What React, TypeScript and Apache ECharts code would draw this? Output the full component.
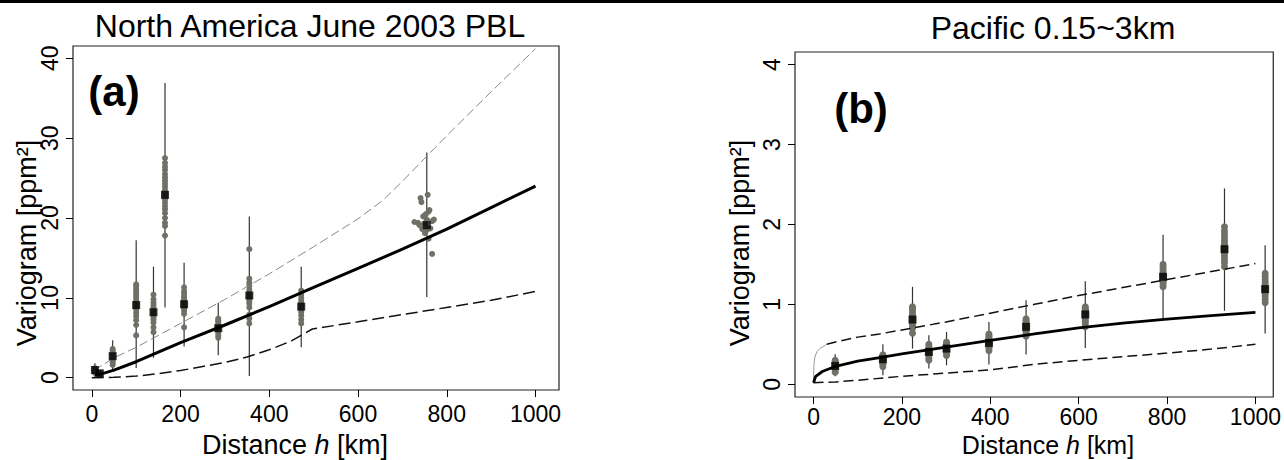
import React, { useEffect, useRef } from 'react';
import * as echarts from 'echarts';

const FONT = '"Liberation Sans", Arial, Helvetica, sans-serif';

// ---------- Panel (a): North America June 2003 PBL ----------
const aTitle = 'North America June 2003 PBL';
const aXTicks = [0, 200, 400, 600, 800, 1000];
const aYTicks = [0, 10, 20, 30, 40];
const aModel: number[][] = [
  [7, 0.34], [20, 0.45], [50, 0.95], [100, 2.0], [200, 4.4], [300, 6.6], [400, 8.9],
  [500, 11.3], [600, 13.7], [700, 16.1], [800, 18.6], [900, 21.3], [1000, 24.0],
];
const aUpper: number[][] = [
  [5, 0.9], [50, 2.5], [100, 3.8], [200, 6.8], [300, 9.8], [400, 13.0], [500, 16.4],
  [600, 19.9], [658, 22.3], [700, 24.6], [800, 30.3], [900, 35.8], [1000, 41.2],
];
const aLower: number[][] = [
  [0, 0.0], [50, 0.05], [100, 0.2], [150, 0.5], [200, 0.9], [250, 1.4], [300, 1.9],
  [350, 2.6], [400, 3.5], [450, 4.6], [497, 6.1], [600, 7.0], [700, 7.9], [800, 8.8],
  [900, 9.7], [1000, 10.8],
];
const aBinX = [7, 18, 47, 100, 139, 165, 208, 285, 355, 472, 755];
const aBinMean = [0.96, 0.55, 2.7, 9.1, 8.2, 22.9, 9.2, 6.2, 10.3, 8.9, 19.1];
const aBinLo = [0.0, 0.1, 0.75, 1.2, 2.5, 8.8, 3.9, 2.8, 0.2, 3.8, 10.1];
const aBinHi = [1.8, 0.9, 4.7, 17.2, 13.9, 36.9, 14.4, 9.4, 20.2, 13.9, 28.2];
const aBinDots: number[][] = [
  [0.6, 0.8, 0.9, 1.0, 1.1, 1.2, 0.7],
  [0.4, 0.5, 0.6, 0.3],
  [1.6, 1.9, 2.1, 2.3, 2.5, 2.6, 2.8, 2.9, 3.0, 3.2, 3.4, 3.6],
  [5.3, 6.6, 7.2, 7.7, 8.1, 8.5, 8.8, 9.1, 9.4, 9.7, 10.0, 10.3, 10.6, 10.9, 11.2, 11.5, 11.7],
  [5.7, 6.3, 6.9, 7.3, 7.6, 7.9, 8.2, 8.5, 8.8, 9.1, 9.4, 9.8, 10.4],
  [17.8, 19.0, 19.4, 20.0, 20.6, 21.1, 21.5, 21.9, 22.3, 22.6, 22.9, 23.2, 23.5, 23.9, 24.3, 24.7, 25.1, 25.5, 26.0, 26.4, 26.9, 27.5],
  [6.3, 8.0, 8.4, 8.7, 9.0, 9.3, 9.6, 9.9, 10.2, 10.5, 10.8, 11.3],
  [5.0, 5.3, 5.6, 5.9, 6.1, 6.3, 6.5, 6.8, 7.0, 7.2, 7.4],
  [6.8, 7.4, 7.9, 8.8, 9.3, 9.6, 9.9, 10.2, 10.6, 11.0, 11.5, 11.9, 12.4, 16.1],
  [6.8, 7.3, 7.8, 8.2, 8.5, 8.8, 9.1, 9.4, 9.7, 10.0, 10.4, 10.9],
  [],
];
// the far bin is spread over a range of distances
const aFarDots: number[][] = [
  [727, 19.5], [741, 22.5], [743, 22.0], [757, 22.9], [759, 20.8], [767, 19.6], [739, 19.1],
  [751, 18.1], [759, 17.4], [755, 18.5], [767, 15.5], [747, 20.2], [763, 18.7], [755, 19.8],
  [749, 19.3], [761, 21.0], [745, 18.6], [771, 19.8], [735, 19.4], [753, 20.5],
];

// ---------- Panel (b): Pacific 0.15~3km ----------
const bTitle = 'Pacific 0.15~3km';
const bXTicks = [0, 200, 400, 600, 800, 1000];
const bYTicks = [0, 1, 2, 3, 4];
const bModel: number[][] = [
  [0, 0.02], [5, 0.1], [20, 0.16], [50, 0.225], [100, 0.29], [150, 0.335], [200, 0.38],
  [300, 0.465], [400, 0.55], [500, 0.63], [600, 0.705], [700, 0.765], [800, 0.815],
  [900, 0.86], [1000, 0.9],
];
const bUpperNear: number[][] = [[0, 0.05], [1, 0.25], [3, 0.34], [8, 0.41], [15, 0.45], [30, 0.5]];
const bUpper: number[][] = [
  [30, 0.5], [50, 0.53], [100, 0.59], [150, 0.63], [200, 0.68], [300, 0.78], [400, 0.89],
  [500, 1.0], [600, 1.11], [700, 1.21], [800, 1.31], [900, 1.41], [1000, 1.51],
];
const bLower: number[][] = [
  [0, 0.02], [50, 0.03], [100, 0.05], [200, 0.1], [300, 0.14], [400, 0.18], [500, 0.25],
  [600, 0.3], [700, 0.345], [800, 0.39], [900, 0.44], [1000, 0.5],
];
const bBinX = [49, 157, 224, 261, 301, 397, 481, 615, 791, 930, 1022];
const bBinMean = [0.23, 0.313, 0.81, 0.405, 0.447, 0.518, 0.719, 0.874, 1.345, 1.69, 1.19];
const bBinLo = [0.1, 0.113, 0.447, 0.196, 0.238, 0.247, 0.372, 0.455, 0.815, 0.92, 0.635];
const bBinHi = [0.376, 0.5, 1.22, 0.614, 0.656, 0.78, 1.05, 1.29, 1.87, 2.45, 1.74];
const bBinDots: number[][] = [
  [0.15, 0.18, 0.2, 0.22, 0.24, 0.26, 0.28, 0.3],
  [0.22, 0.25, 0.27, 0.29, 0.31, 0.33, 0.35, 0.37],
  [0.64, 0.7, 0.74, 0.77, 0.8, 0.83, 0.86, 0.89, 0.92, 0.95, 0.97],
  [0.3, 0.33, 0.36, 0.38, 0.4, 0.42, 0.44, 0.47, 0.5],
  [0.36, 0.39, 0.41, 0.43, 0.45, 0.47, 0.49, 0.51, 0.53],
  [0.42, 0.45, 0.47, 0.49, 0.51, 0.53, 0.55, 0.57, 0.59, 0.61, 0.63],
  [0.6, 0.63, 0.66, 0.68, 0.7, 0.72, 0.74, 0.76, 0.78, 0.8, 0.82],
  [0.72, 0.76, 0.79, 0.82, 0.85, 0.87, 0.89, 0.91, 0.93, 0.95, 0.97],
  [1.22, 1.25, 1.28, 1.3, 1.33, 1.36, 1.38, 1.41, 1.44, 1.47, 1.5],
  [1.47, 1.52, 1.56, 1.6, 1.64, 1.67, 1.7, 1.73, 1.76, 1.8, 1.84, 1.88, 1.92, 1.97],
  [1.02, 1.06, 1.1, 1.13, 1.16, 1.19, 1.22, 1.25, 1.28, 1.31, 1.35, 1.39],
];

const DOT = '#707066';

function errorBars(idx: number, xs: number[], lo: number[], hi: number[], color: string) {
  return {
    type: 'custom',
    xAxisIndex: idx,
    yAxisIndex: idx,
    silent: true,
    data: xs.map((x, i) => [x, lo[i], hi[i]]),
    encode: { x: 0, y: [1, 2] },
    renderItem: (_p: any, api: any) => {
      const a = api.coord([api.value(0), api.value(1)]);
      const b = api.coord([api.value(0), api.value(2)]);
      return {
        type: 'line',
        shape: { x1: a[0], y1: a[1], x2: b[0], y2: b[1] },
        style: { stroke: color, lineWidth: 1.2 },
      };
    },
  };
}

function dots(idx: number, xs: number[], vals: number[][], extra: number[][], size: number) {
  const data: number[][] = [];
  xs.forEach((x, i) => vals[i].forEach((v) => data.push([x, v])));
  extra.forEach((p) => data.push(p));
  return {
    type: 'scatter',
    xAxisIndex: idx,
    yAxisIndex: idx,
    silent: true,
    symbol: 'circle',
    symbolSize: size,
    itemStyle: { color: DOT, opacity: 1 },
    data,
  };
}

function means(idx: number, xs: number[], m: number[], size: number) {
  return {
    type: 'scatter',
    xAxisIndex: idx,
    yAxisIndex: idx,
    silent: true,
    symbol: 'rect',
    symbolSize: size,
    itemStyle: { color: '#000' },
    data: xs.map((x, i) => [x, m[i]]),
    z: 5,
  };
}

function curve(idx: number, data: number[][], color: string, width: number, type: any) {
  return {
    type: 'line',
    xAxisIndex: idx,
    yAxisIndex: idx,
    silent: true,
    symbol: 'none',
    smooth: false,
    data,
    lineStyle: { color, width, type },
    z: 4,
  };
}

const plain = (v: number) => String(v);

function xAxisCfg(idx: number, min: number, max: number, ticks: number[], margin: number) {
  return {
    gridIndex: idx,
    type: 'value',
    position: 'bottom',
    min,
    max,
    axisLine: { show: false, onZero: false },
    splitLine: { show: false },
    axisTick: { show: true, inside: false, length: 7, lineStyle: { color: '#000', width: 1 }, customValues: ticks },
    axisLabel: { customValues: ticks, formatter: plain, fontSize: 23, lineHeight: 20, color: '#000', fontFamily: FONT, margin },
  };
}

function yAxisCfg(idx: number, min: number, max: number, ticks: number[]) {
  return {
    gridIndex: idx,
    type: 'value',
    position: 'left',
    min,
    max,
    axisLine: { show: false, onZero: false },
    splitLine: { show: false },
    axisTick: { show: true, inside: false, length: 7, lineStyle: { color: '#000', width: 1 }, customValues: ticks },
    axisLabel: { customValues: ticks, formatter: plain, fontSize: 23, color: '#000', fontFamily: FONT, rotate: 90, margin: 12 },
  };
}

function txt(x: number, y: number, text: string, size: number, opts: any = {}) {
  return {
    type: 'text',
    x,
    y,
    rotation: opts.rotation || 0,
    silent: true,
    style: {
      x: 0,
      y: 0,
      text,
      fill: '#000',
      fontSize: size,
      fontFamily: FONT,
      fontWeight: opts.bold ? 'bold' : 'normal',
      textAlign: 'center',
      textVerticalAlign: 'middle',
      align: 'center',
      verticalAlign: 'middle',
      rich: opts.rich,
    },
  };
}

const richName = (size: number) => ({
  n: { fontSize: size, fontFamily: FONT, fill: '#000', color: '#000' },
  i: { fontSize: size, fontFamily: FONT, fontStyle: 'italic', fill: '#000', color: '#000' },
});

export default function App() {
  const ref = useRef<HTMLDivElement>(null);
  useEffect(() => {
    if (!ref.current) return;
    const chart = echarts.init(ref.current, undefined, { renderer: 'svg' });
    const gridBase = { show: true, borderColor: '#222', borderWidth: 1.2, backgroundColor: 'transparent', containLabel: false };
    chart.setOption({
      animation: false,
      backgroundColor: '#fff',
      grid: [
        { ...gridBase, left: 73, top: 46, width: 486, height: 344 },
        { ...gridBase, left: 795, top: 52, width: 480, height: 345 },
      ],
      xAxis: [xAxisCfg(0, -42.4, 1053, aXTicks, 14), xAxisCfg(1, -41.9, 1040.4, bXTicks, 10)],
      yAxis: [yAxisCfg(0, -1.54, 41.54, aYTicks), yAxisCfg(1, -0.159, 4.157, bYTicks)],
      series: [
        errorBars(0, aBinX, aBinLo, aBinHi, '#333'),
        dots(0, aBinX, aBinDots, aFarDots, 6),
        curve(0, aUpper, '#888', 1, [9, 4]),
        curve(0, aLower, '#111', 1.5, [12, 5]),
        curve(0, aModel, '#000', 3, 'solid'),
        means(0, aBinX, aBinMean, 8),
        errorBars(1, bBinX, bBinLo, bBinHi, '#333'),
        dots(1, bBinX, bBinDots, [], 7),
        curve(1, bUpperNear, '#999', 1, 'solid'),
        curve(1, bUpper, '#111', 1.5, [10, 5]),
        curve(1, bLower, '#111', 1.5, [10, 5]),
        curve(1, bModel, '#000', 2.8, 'solid'),
        means(1, bBinX, bBinMean, 8),
      ],
      graphic: [
        { type: 'rect', silent: true, shape: { x: 0, y: 0, width: 1284, height: 3 }, style: { fill: '#000' } },
        txt(310, 26, aTitle, 32),
        txt(1053, 28, bTitle, 32),
        txt(114, 91, '(a)', 42, { bold: true }),
        txt(861, 108, '(b)', 42, { bold: true }),
        txt(27, 243, 'Variogram [ppm²]', 27, { rotation: Math.PI / 2 }),
        txt(740, 243, 'Variogram [ppm²]', 27, { rotation: Math.PI / 2 }),
        txt(295, 445, '{n|Distance }{i|h}{n| [km]}', 27, { rich: richName(27) }),
        txt(1048, 445, '{n|Distance }{i|h}{n| [km]}', 25, { rich: richName(25) }),
      ],
    });
    return () => chart.dispose();
  }, []);
  return (
    <div
      ref={ref}
      style={{ position: 'fixed', left: 0, top: 0, width: 1284, height: 460, background: '#fff' }}
    />
  );
}
